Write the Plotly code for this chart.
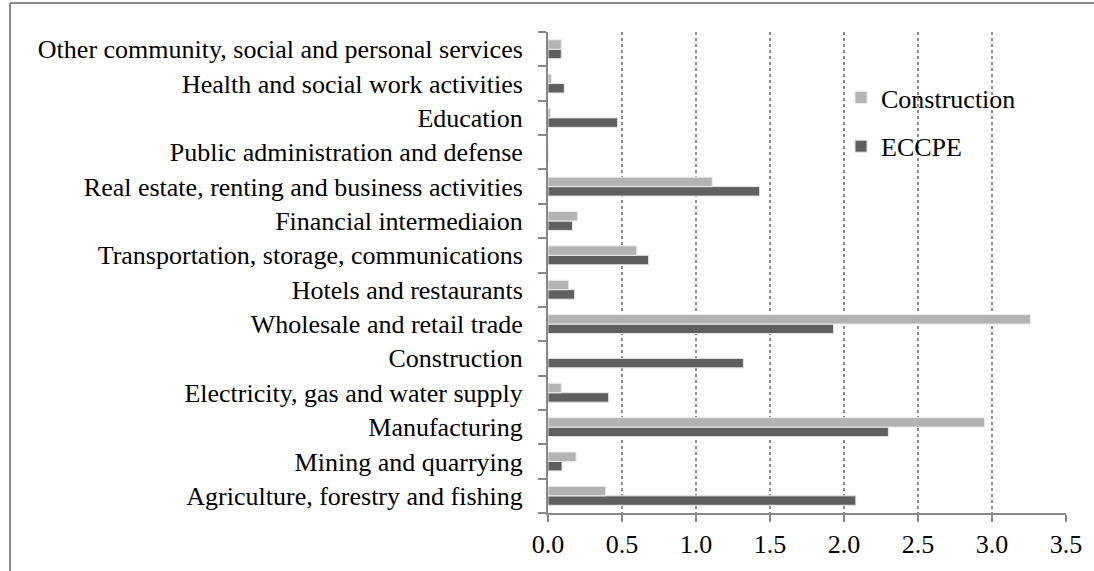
import plotly.graph_objects as go

categories = [
    "Agriculture, forestry and fishing",
    "Mining and quarrying",
    "Manufacturing",
    "Electricity, gas and water supply",
    "Construction",
    "Wholesale and retail trade",
    "Hotels and restaurants",
    "Transportation, storage, communications",
    "Financial intermediaion",
    "Real estate, renting and business activities",
    "Public administration and defense",
    "Education",
    "Health and social work activities",
    "Other community, social and personal services",
]
construction_values = [0.39, 0.19, 2.95, 0.09, 0.0, 3.26, 0.14, 0.60, 0.20, 1.11, 0.0, 0.016, 0.023, 0.09]
eccpe_values = [2.08, 0.095, 2.30, 0.41, 1.32, 1.93, 0.18, 0.68, 0.165, 1.43, 0.0, 0.47, 0.11, 0.09]
x_ticks = [0.0, 0.5, 1.0, 1.5, 2.0, 2.5, 3.0, 3.5]

W, H = 1094, 571
L, R, T, B = 548, 1066, 32, 513
FONT = "Liberation Serif"

fig = go.Figure()
fig.add_trace(go.Bar(
    y=categories, x=eccpe_values, orientation="h", name="ECCPE",
    marker=dict(color="#5f5f5f", line=dict(color="#e4e4e4", width=1)),
    legendgroup="b", legendrank=2,
))
fig.add_trace(go.Bar(
    y=categories, x=construction_values, orientation="h", name="Construction",
    marker=dict(color="#b3b3b3", line=dict(color="#ececec", width=1)),
    legendgroup="a", legendrank=1,
))

pw = R - L
ph = B - T
def px_x(p):
    return (p - L) / pw
def px_y(p):
    return 1 - (p - T) / ph

shapes = [
    dict(type="line", xref="paper", yref="paper", x0=px_x(10), x1=px_x(W + 5),
         y0=px_y(3), y1=px_y(3), line=dict(color="#8a8a8a", width=2)),
    dict(type="line", xref="paper", yref="paper", x0=px_x(10), x1=px_x(10),
         y0=px_y(3), y1=px_y(H + 5), line=dict(color="#8a8a8a", width=2)),
]

fig.update_layout(
    width=W, height=H,
    margin=dict(l=L, r=W - R, t=T, b=H - B, pad=0),
    paper_bgcolor="white", plot_bgcolor="white",
    barmode="group", bargap=0.45, bargroupgap=0.0,
    font=dict(family=FONT, size=26, color="black"),
    showlegend=True,
    legend=dict(
        x=px_x(841), y=px_y(74), xanchor="left", yanchor="top",
        bgcolor="rgba(0,0,0,0)", font=dict(family=FONT, size=26, color="black"),
        tracegroupgap=12,
    ),
    shapes=shapes,
    xaxis=dict(
        range=[0, 3.5], tickvals=x_ticks, tickformat=".1f",
        showgrid=True, gridcolor="#8c8c8c", griddash="dot", gridwidth=1.5,
        showline=True, linecolor="#878787", linewidth=2,
        ticks="outside", ticklen=7, tickcolor="#878787", tickwidth=2,
        zeroline=False, fixedrange=True,
        tickfont=dict(family=FONT, size=26, color="black"),
    ),
    yaxis=dict(
        type="category", categoryorder="array", categoryarray=categories,
        showgrid=False, showline=True, linecolor="#878787", linewidth=2,
        ticks="outside", ticklen=8, tickcolor="#878787", tickwidth=2,
        tickson="boundaries", ticklabelstandoff=18,
        zeroline=False, fixedrange=True,
        tickfont=dict(family=FONT, size=26, color="black"),
    ),
)

fig.write_html(
    "out.html",
    config={"displayModeBar": False},
    post_script="document.body.style.margin='0';document.body.style.overflow='hidden';",
)
